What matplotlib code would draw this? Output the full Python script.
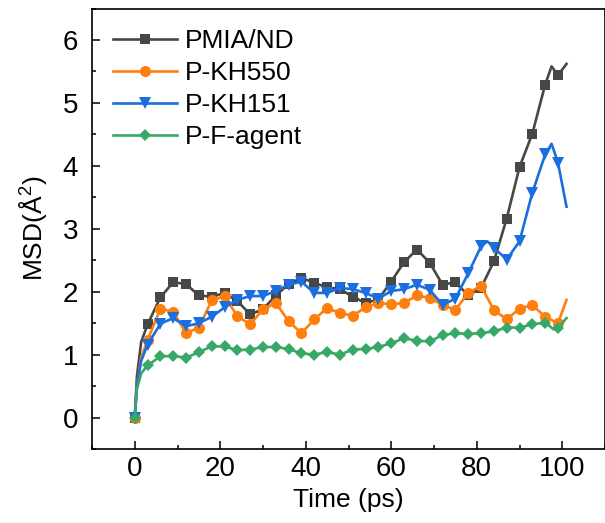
import numpy as np
import matplotlib
matplotlib.use("Agg")
import matplotlib.pyplot as plt

plt.rcParams['font.family'] = ['Liberation Sans', 'DejaVu Sans']
plt.rcParams['mathtext.default'] = 'regular'

# ---- data ----
marker_times = [0, 3, 6, 9, 12, 15, 18, 21, 24, 27, 30, 33, 36, 39, 42, 45, 48, 51,
                54, 57, 60, 63, 66, 69, 72, 75, 78, 81, 84, 87, 90, 93, 96, 99]

pmia_t = [0, 0.5, 1.5, 3, 6, 9, 12, 15, 18, 21, 24, 27, 30, 33, 36, 39, 42, 45, 48, 51,
          54, 57, 60, 63, 66, 69, 72, 75, 78, 81, 84, 87, 90, 93, 96, 97.5, 99, 101]
pmia_v = [0, 0.65, 1.2, 1.48, 1.91, 2.15, 2.12, 1.94, 1.92, 1.98, 1.85, 1.64, 1.72, 1.94,
          2.12, 2.22, 2.14, 2.07, 2.04, 1.92, 1.82, 1.88, 2.16, 2.47, 2.67, 2.46, 2.11,
          2.15, 1.94, 2.06, 2.48, 3.16, 3.98, 4.51, 5.29, 5.58, 5.44, 5.62]

kh550_t = [0, 0.5, 1.5, 3, 6, 9, 12, 15, 18, 21, 24, 27, 30, 33, 36, 39, 42, 45, 48, 51,
           54, 57, 60, 63, 66, 69, 72, 75, 78, 81, 84, 87, 90, 93, 96, 99, 101]
kh550_v = [0, 0.5, 0.95, 1.23, 1.73, 1.68, 1.34, 1.43, 1.86, 1.93, 1.61, 1.48, 1.72, 1.82,
           1.53, 1.34, 1.56, 1.74, 1.66, 1.62, 1.75, 1.82, 1.80, 1.82, 1.94, 1.90, 1.79,
           1.71, 1.98, 2.09, 1.71, 1.56, 1.73, 1.79, 1.60, 1.50, 1.87]

kh151_t = [0, 0.5, 1.5, 3, 6, 9, 12, 15, 18, 21, 24, 27, 30, 33, 36, 39, 42, 45, 48, 51,
           54, 57, 60, 63, 66, 69, 72, 75, 78, 81, 82.5, 84, 87, 90, 93, 96, 97.5, 99, 101]
kh151_v = [0, 0.5, 0.9, 1.16, 1.49, 1.58, 1.45, 1.50, 1.60, 1.75, 1.87, 1.93, 1.93, 2.01,
           2.11, 2.16, 1.98, 1.98, 2.06, 2.04, 1.98, 1.89, 2.01, 2.04, 2.11, 2.03, 1.79,
           1.89, 2.29, 2.72, 2.80, 2.70, 2.51, 2.80, 3.57, 4.18, 4.35, 4.05, 3.35]

fagent_t = [0, 0.5, 1.5, 3, 6, 9, 12, 15, 18, 21, 24, 27, 30, 33, 36, 39, 42, 45, 48, 51,
            54, 57, 60, 63, 66, 69, 72, 75, 78, 81, 84, 87, 90, 93, 96, 98, 99, 101]
fagent_v = [0, 0.45, 0.7, 0.83, 0.97, 0.98, 0.95, 1.04, 1.13, 1.13, 1.07, 1.08, 1.12, 1.12,
            1.09, 1.02, 1.00, 1.04, 1.00, 1.08, 1.09, 1.12, 1.18, 1.26, 1.22, 1.21, 1.31,
            1.34, 1.33, 1.34, 1.37, 1.43, 1.43, 1.48, 1.51, 1.40, 1.42, 1.58]

labels = ['PMIA/ND', 'P-KH550', 'P-KH151', 'P-F-agent']
x_ticks = [0, 20, 40, 60, 80, 100]
y_ticks = [0, 1, 2, 3, 4, 5, 6]

series = [
    (pmia_t, pmia_v, '#474747', 's', 6.5),
    (kh550_t, kh550_v, '#ff7f0e', 'o', 8.0),
    (kh151_t, kh151_v, '#1a6ee0', 'v', 8.0),
    (fagent_t, fagent_v, '#38a866', 'D', 6.5),
]

fig = plt.figure(figsize=(6.05, 5.23), dpi=100)
ax = fig.add_axes([92 / 605, 1 - 449 / 523, 1 - 92 / 605, (449 - 8.5) / 523])

for (t, v, c, m, ms), lab in zip(series, labels):
    idx = [i for i, tt in enumerate(t) if tt in marker_times]
    ax.plot(t, v, color=c, lw=1.9, marker=m, markersize=ms, markevery=idx,
            markeredgewidth=0, label=lab)

ax.set_xlim(-10, 110)
ax.set_ylim(-0.5, 6.5)
ax.set_xticks(x_ticks)
ax.set_yticks(y_ticks)
ax.set_xticks(np.arange(-10, 111, 10), minor=True)
ax.set_yticks(np.arange(-0.5, 6.51, 0.5), minor=True)
ax.tick_params(which='major', direction='in', length=6, width=1.1, labelsize=20)
ax.tick_params(axis='y', which='major', pad=10)
ax.tick_params(axis='x', which='major', pad=5)
ax.tick_params(which='minor', direction='in', length=3, width=1.1)
ax.tick_params(axis='x', which='both', top=False)
ax.tick_params(axis='y', which='both', right=False)
for s in ax.spines.values():
    s.set_linewidth(1.2)

ax.set_xlabel('Time (ps)', fontsize=19, labelpad=4)
ax.set_ylabel('MSD(Å$^2$)', fontsize=19, labelpad=10)

ax.legend(loc='upper left', bbox_to_anchor=(0.0, 1.0), frameon=False, fontsize=19,
          handlelength=2.45, handletextpad=0.3, labelspacing=0.30, borderaxespad=0.38,
          borderpad=0.4)

fig.savefig('out.png', dpi=100)
